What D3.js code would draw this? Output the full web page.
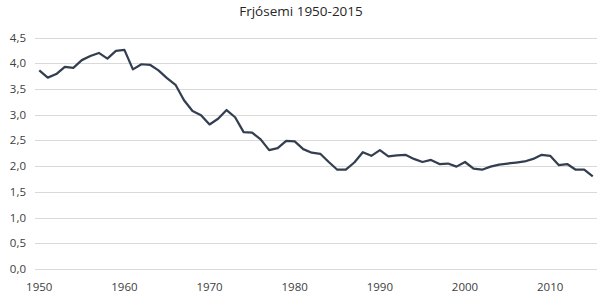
<!DOCTYPE html>
<html>
<head>
<meta charset="utf-8">
<script src="https://cdn.jsdelivr.net/npm/d3@7"></script>
<style>
  body { margin: 0; background: #fff; }
  svg { display: block; font-family: "Open Sans", "Noto Sans", sans-serif; }
</style>
</head>
<body>
<div id="main"></div>
<script>
// Frjósemi á Íslandi 1950-2015
const years = d3.range(1950, 2016);
const fertility = [
  3.86, 3.72, 3.79, 3.93, 3.91, 4.06, 4.14, 4.20, 4.09, 4.24,
  4.26, 3.88, 3.98, 3.97, 3.86, 3.71, 3.58, 3.28, 3.07, 2.99,
  2.81, 2.92, 3.09, 2.95, 2.66, 2.65, 2.52, 2.31, 2.35, 2.49,
  2.48, 2.33, 2.26, 2.24, 2.08, 1.93, 1.93, 2.07, 2.27, 2.20,
  2.31, 2.19, 2.21, 2.22, 2.14, 2.08, 2.12, 2.04, 2.05, 1.99,
  2.08, 1.95, 1.93, 1.99, 2.03, 2.05, 2.07, 2.09, 2.14, 2.22,
  2.20, 2.02, 2.04, 1.93, 1.93, 1.80
];
const yTicks = [0, 0.5, 1, 1.5, 2, 2.5, 3, 3.5, 4, 4.5];
const xTickYears = [1950, 1960, 1970, 1980, 1990, 2000, 2010];
const title = 'Frjósemi 1950-2015';

const width = 602, height = 297;
const svg = d3.select('#main').append('svg')
  .attr('width', width).attr('height', height);

let x = d3.scalePoint().domain(years).range([35, 597]).padding(0.5);
let y = d3.scaleLinear().domain([0, 4.5]).range([269, 37.5]);
let fmt = d => d3.format('.1f')(d).replace('.', ',');

svg.append('text')
  .attr('x', 301).attr('y', 16)
  .attr('text-anchor', 'middle')
  .style('font-size', '13.5px')
  .style('fill', '#262626')
  .text(title);

// gridlines
svg.append('g').selectAll('line').data(yTicks).join('line')
  .attr('x1', 35).attr('x2', 597)
  .attr('y1', d => Math.round(y(d)) + 0.5)
  .attr('y2', d => Math.round(y(d)) + 0.5)
  .style('stroke', '#d9d9d9')
  .style('stroke-width', '1px');

svg.append('g').selectAll('text').data(yTicks).join('text')
  .attr('x', 26).attr('y', d => y(d) + 4)
  .attr('text-anchor', 'end')
  .style('font-size', '11.5px')
  .style('fill', '#404040')
  .text(fmt);

svg.append('g').selectAll('text').data(xTickYears).join('text')
  .attr('x', d => x(d)).attr('y', 291)
  .attr('text-anchor', 'middle')
  .style('font-size', '11.5px')
  .style('fill', '#404040')
  .text(d => d);

let line = d3.line()
  .x((d, i) => x(years[i]))
  .y(d => y(d));

svg.append('path')
  .datum(fertility)
  .attr('d', line)
  .style('fill', 'none')
  .style('stroke', '#333f50')
  .style('stroke-width', '2.25px')
  .style('stroke-linejoin', 'round');
</script>
</body>
</html>
